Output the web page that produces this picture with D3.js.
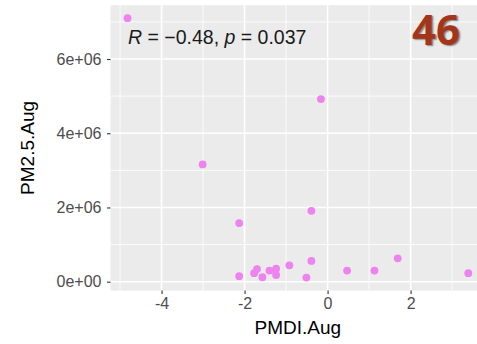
<!DOCTYPE html>
<html><head><meta charset="utf-8">
<script src="https://cdn.jsdelivr.net/npm/d3@7"></script>
<style>
html,body{margin:0;padding:0;background:#fff;}
svg{display:block;}
</style></head>
<body>
<svg id="chart" width="477" height="344"></svg>
<script>
const pmdi = [-4.82, -3.01, -0.16, -2.13, -0.39, -2.13, -1.77, -1.70, -1.57, -1.40, -1.24, -1.24, -0.92, -0.51, -0.39, 0.47, 1.13, 1.69, 3.39];
const pm25 = [7.10e6, 3.16e6, 4.92e6, 1.58e6, 1.91e6, 0.15e6, 0.23e6, 0.34e6, 0.12e6, 0.30e6, 0.35e6, 0.18e6, 0.44e6, 0.11e6, 0.56e6, 0.30e6, 0.30e6, 0.63e6, 0.23e6];
const xTicks = [-4, -2, 0, 2];
const xMinor = [-5, -3, -1, 1, 3];
const yTicks = [0, 2e6, 4e6, 6e6];
const yTickLabels = ["0e+00", "2e+06", "4e+06", "6e+06"];
const yMinor = [1e6, 3e6, 5e6, 7e6];
const xTitle = "PMDI.Aug";
const yTitle = "PM2.5.Aug";
const statText = {R: "R", eq1: " = \u22120.48, ", p: "p", eq2: " = 0.037"};
const panelLabel = "46";

(function () {
const svg = d3.select("#chart");
const pL = 110.5, pR = 485.3, pT = 5.2, pB = 290.6;
const x = d3.scaleLinear().domain([-5.23, 3.80]).range([pL, pR]);
const y = d3.scaleLinear().domain([-0.24e6, 7.45e6]).range([pB, pT]);
const font = "Liberation Sans, Arial, sans-serif";

svg.append("rect").attr("x", pL).attr("y", pT).attr("width", pR - pL).attr("height", pB - pT).attr("fill", "#EBEBEB");

const g = svg.append("g");
g.selectAll(".xmin").data(xMinor).join("line")
  .attr("x1", d => x(d)).attr("x2", d => x(d)).attr("y1", pT).attr("y2", pB)
  .attr("stroke", "#fff").attr("stroke-width", 0.8);
g.selectAll(".ymin").data(yMinor).join("line")
  .attr("y1", d => y(d)).attr("y2", d => y(d)).attr("x1", pL).attr("x2", pR)
  .attr("stroke", "#fff").attr("stroke-width", 0.8);
g.selectAll(".xmaj").data(xTicks).join("line")
  .attr("x1", d => x(d)).attr("x2", d => x(d)).attr("y1", pT).attr("y2", pB)
  .attr("stroke", "#fff").attr("stroke-width", 1.6);
g.selectAll(".ymaj").data(yTicks).join("line")
  .attr("y1", d => y(d)).attr("y2", d => y(d)).attr("x1", pL).attr("x2", pR)
  .attr("stroke", "#fff").attr("stroke-width", 1.6);

const xAxis = d3.axisBottom(x).tickValues(xTicks).tickSize(3.5).tickPadding(4).tickFormat(d => String(d));
const xa = svg.append("g").attr("transform", `translate(0,${pB})`).call(xAxis);
xa.select(".domain").remove();
xa.selectAll("line").attr("stroke", "#333").attr("stroke-width", 1.1);
xa.selectAll("text").attr("fill", "#4D4D4D").style("font-family", font).style("font-size", "16px");

const yAxis = d3.axisLeft(y).tickValues(yTicks).tickSize(3.5).tickPadding(5.5).tickFormat((d, i) => yTickLabels[i]);
const ya = svg.append("g").attr("transform", `translate(${pL},0)`).call(yAxis);
ya.select(".domain").remove();
ya.selectAll("line").attr("stroke", "#333").attr("stroke-width", 1.1);
ya.selectAll("text").attr("fill", "#4D4D4D").style("font-family", font).style("font-size", "16px");

const pts = pmdi.map((v, i) => ({x: v, y: pm25[i]}));
svg.append("g").selectAll("circle").data(pts).join("circle")
  .attr("cx", d => x(d.x)).attr("cy", d => y(d.y)).attr("r", 3.9)
  .attr("fill", "#EE82EE");

svg.append("text").attr("x", (pL + pR) / 2).attr("y", 334).attr("text-anchor", "middle")
  .style("font-family", font).style("font-size", "19px").attr("fill", "#000").text(xTitle);
svg.append("text").attr("transform", `translate(34,${(pT + pB) / 2}) rotate(-90)`).attr("text-anchor", "middle")
  .style("font-family", font).style("font-size", "19px").attr("fill", "#000").text(yTitle);

const st = svg.append("text").attr("x", 128).attr("y", 44.3)
  .style("font-family", font).style("font-size", "19.5px").attr("fill", "#1a1a1a");
st.append("tspan").style("font-style", "italic").text(statText.R);
st.append("tspan").text(statText.eq1);
st.append("tspan").style("font-style", "italic").text(statText.p);
st.append("tspan").text(statText.eq2);

svg.append("text").attr("x", 436).attr("y", 44.5).attr("text-anchor", "middle")
  .style("font-family", "Open Sans, Liberation Sans, sans-serif").style("font-weight", "bold").style("font-size", "42px")
  .attr("fill", "#A3361A").style("text-shadow", "1.5px 1.5px 1.5px rgba(0,0,0,0.45)").text(panelLabel);
})();
</script>
</body></html>
